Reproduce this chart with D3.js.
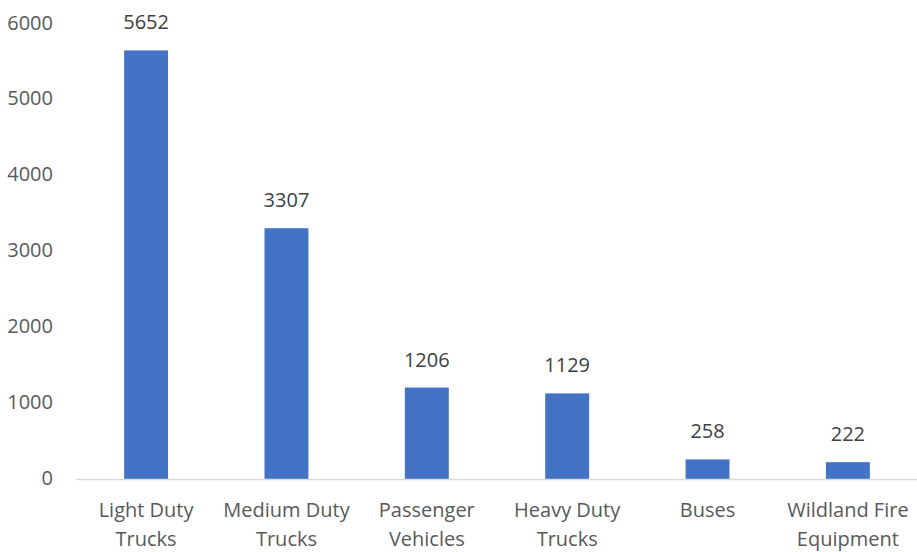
<!DOCTYPE html>
<html>
<head>
<meta charset="utf-8">
<script src="https://cdn.jsdelivr.net/npm/d3@7"></script>
<style>
  body { margin: 0; background: #fff; }
  text { font-family: "Open Sans", sans-serif; }
</style>
</head>
<body>
<svg width="917" height="552"></svg>
<script>
const categories = [
    ["Light Duty", "Trucks"],
    ["Medium Duty", "Trucks"],
    ["Passenger", "Vehicles"],
    ["Heavy Duty", "Trucks"],
    ["Buses"],
    ["Wildland Fire", "Equipment"]
];
const counts = [5652, 3307, 1206, 1129, 258, 222];
const yTicks = [0, 1000, 2000, 3000, 4000, 5000, 6000];

const svg = d3.select("svg");

const x = d3.scaleBand()
    .domain(d3.range(categories.length))
    .range([76, 918])
    .paddingInner(0.687)
    .paddingOuter(0.343);

const y = d3.scaleLinear()
    .domain([0, 6000])
    .range([479, 24]);

// y tick labels (no axis line, no gridlines)
svg.append("g")
    .selectAll("text")
    .data(yTicks)
    .join("text")
    .attr("x", 53)
    .attr("y", d => y(d) - 1.5)
    .attr("dy", "0.35em")
    .attr("text-anchor", "end")
    .attr("font-size", 20)
    .attr("fill", "#595959")
    .text(d => d);

// bars
svg.append("g")
    .selectAll("rect")
    .data(counts)
    .join("rect")
    .attr("x", (d, i) => x(i))
    .attr("width", x.bandwidth())
    .attr("y", d => y(d))
    .attr("height", d => y(0) - y(d))
    .attr("fill", "#4472C4");

// baseline
svg.append("line")
    .attr("x1", 76).attr("x2", 918)
    .attr("y1", y(0) + 0.5).attr("y2", y(0) + 0.5)
    .attr("stroke", "#D9D9D9")
    .attr("stroke-width", 1.5);

// value labels
svg.append("g")
    .selectAll("text")
    .data(counts)
    .join("text")
    .attr("x", (d, i) => x(i) + x.bandwidth() / 2)
    .attr("y", d => y(d) - 28)
    .attr("dy", "0.35em")
    .attr("text-anchor", "middle")
    .attr("font-size", 20)
    .attr("fill", "#404040")
    .text(d => d);

// category labels
const cat = svg.append("g")
    .selectAll("text")
    .data(categories)
    .join("text")
    .attr("x", (d, i) => x(i) + x.bandwidth() / 2)
    .attr("y", 510)
    .attr("text-anchor", "middle")
    .attr("font-size", 20)
    .attr("fill", "#595959");

cat.selectAll("tspan")
    .data(d => d)
    .join("tspan")
    .attr("x", function () { return d3.select(this.parentNode).attr("x"); })
    .attr("dy", (d, i) => i === 0 ? "0.35em" : 29)
    .text(d => d);
</script>
</body>
</html>
